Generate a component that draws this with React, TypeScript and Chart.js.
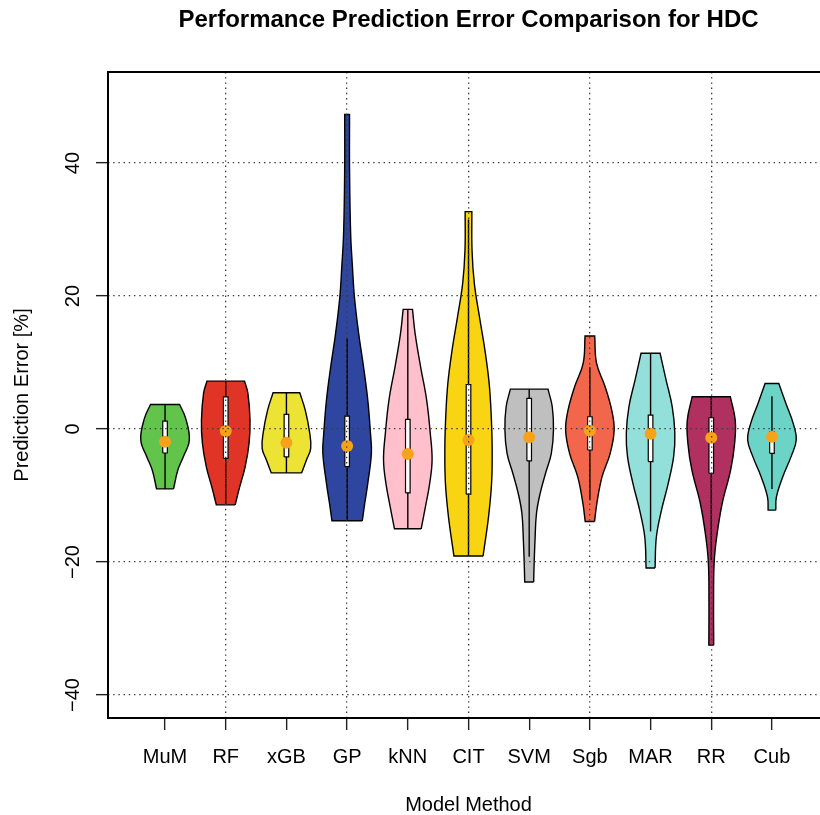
import React, { useEffect, useRef } from 'react';
import { Chart, registerables } from 'chart.js';

Chart.register(...registerables);

const FONT = '"Liberation Sans", Arial, Helvetica, sans-serif';

const titleText = 'Performance Prediction Error Comparison for HDC';
const xTitle = 'Model Method';
const yTitle = 'Prediction Error [%]';

const categories = ['MuM', 'RF', 'xGB', 'GP', 'kNN', 'CIT', 'SVM', 'Sgb', 'MAR', 'RR', 'Cub'];
const violinColors = ['#62C44A', '#E03426', '#ECE334', '#2E46A0', '#FFC0CB', '#F9D413', '#BFBFBF', '#F2664B', '#93E0DA', '#B03060', '#6CD4C7'];
const medianColor = '#F7A21B';
const yTicks = [-40, -20, 0, 20, 40];
const xGridAt = [2, 4, 6, 8, 10];

// density profiles: [error value, half width in category units], bottom to top
const mumProfile = [[-9.0, 0.14], [-6.2, 0.21], [-4.2, 0.3], [-1.65, 0.4], [1.6, 0.34], [3.7, 0.24]];
const rfProfile = [[-11.4, 0.155], [-8.7, 0.23], [-5.7, 0.32], [-2.1, 0.385], [1.35, 0.4], [5.4, 0.365], [7.2, 0.31]];
const xgbProfile = [[-6.6, 0.25], [-4.65, 0.33], [-2.9, 0.4], [-0.4, 0.38], [2.85, 0.31], [5.45, 0.22]];
const gpProfile = [[-13.8, 0.25], [-11.2, 0.29], [-8.2, 0.34], [-3.65, 0.4], [-0.65, 0.385], [4.4, 0.34], [9.4, 0.27], [14.4, 0.19], [19.9, 0.12], [24.4, 0.088], [29.4, 0.058], [39.4, 0.04], [47.3, 0.04]];
const knnProfile = [[-15.0, 0.22], [-11.7, 0.29], [-8.2, 0.36], [-4.65, 0.4], [-0.65, 0.37], [4.4, 0.31], [9.4, 0.21], [14.4, 0.12], [18.0, 0.077]];
const citProfile = [[-19.1, 0.24], [-13.2, 0.33], [-8.2, 0.38], [-3.15, 0.39], [1.85, 0.375], [6.9, 0.34], [11.9, 0.27], [16.9, 0.18], [21.9, 0.096], [26.9, 0.058], [32.7, 0.055]];
const svmProfile = [[-23.0, 0.074], [-20.7, 0.08], [-16.7, 0.096], [-12.7, 0.12], [-9.7, 0.18], [-6.65, 0.27], [-3.65, 0.365], [-0.15, 0.4], [3.35, 0.38], [6.0, 0.31]];
const sgbProfile = [[-13.9, 0.077], [-11.2, 0.115], [-7.2, 0.2], [-3.65, 0.335], [-0.15, 0.4], [2.85, 0.36], [6.4, 0.25], [9.9, 0.11], [14.0, 0.08]];
const marProfile = [[-20.9, 0.074], [-16.2, 0.096], [-12.2, 0.18], [-8.2, 0.29], [-4.15, 0.38], [-0.65, 0.4], [3.35, 0.357], [7.4, 0.255], [11.4, 0.157]];
const rrProfile = [[-32.5, 0.04], [-26.2, 0.038], [-20.2, 0.047], [-16.2, 0.09], [-11.2, 0.18], [-6.15, 0.32], [-2.15, 0.385], [1.35, 0.395], [4.85, 0.315]];
const cubProfile = [[-12.2, 0.063], [-10.2, 0.074], [-7.15, 0.18], [-4.15, 0.315], [-1.65, 0.4], [0.85, 0.35], [3.85, 0.23], [6.85, 0.113]];

const profiles = [mumProfile, rfProfile, xgbProfile, gpProfile, knnProfile, citProfile, svmProfile, sgbProfile, marProfile, rrProfile, cubProfile];

const q1Values = [-3.6, -4.4, -4.2, -5.65, -9.6, -9.8, -4.8, -3.15, -4.9, -6.65, -3.65];
const q3Values = [1.2, 4.85, 2.2, 1.95, 1.45, 6.7, 4.6, 1.85, 2.1, 1.7, -0.4];
const medians = [-1.9, -0.3, -2.05, -2.55, -3.75, -1.65, -1.25, -0.25, -0.7, -1.3, -1.15];
const whiskerLow = [-9.0, -11.4, -6.6, -13.8, -15.0, -19.1, -19.2, -10.7, -15.4, -19.7, -9.0];
const whiskerHigh = [3.7, 7.2, 5.45, 13.6, 18.0, 31.5, 6.0, 9.3, 11.4, 4.85, 4.95];

const BOX_HALF = 0.038;

function violinPoints(center: number, profile: number[][]) {
  const right = profile.map(([y, w]) => ({ x: center + w, y }));
  const left = profile.slice().reverse().map(([y, w]) => ({ x: center - w, y }));
  const pts: { x: number; y: number }[] = [];
  const c = (p: { x: number; y: number }) => ({ x: p.x, y: p.y });
  pts.push(c(right[0]), c(right[0]));
  right.slice(1, -1).forEach((p) => pts.push(c(p)));
  pts.push(c(right[right.length - 1]), c(right[right.length - 1]));
  pts.push(c(left[0]), c(left[0]));
  left.slice(1, -1).forEach((p) => pts.push(c(p)));
  pts.push(c(left[left.length - 1]), c(left[left.length - 1]));
  pts.push(c(right[0]), c(right[0]));
  return pts;
}

const framePlugin = {
  id: 'frame',
  afterDraw(chart: any) {
    const { ctx, chartArea: a } = chart;
    ctx.save();
    ctx.strokeStyle = '#000';
    ctx.lineWidth = 2;
    ctx.strokeRect(a.left, a.top, a.right - a.left, a.bottom - a.top);
    ctx.restore();
  },
};

export default function App() {
  const ref = useRef<HTMLCanvasElement | null>(null);

  useEffect(() => {
    if (!ref.current) return;
    const datasets: any[] = [];
    categories.forEach((_, i) => {
      const cx = i + 1;
      datasets.push({
        type: 'line',
        data: violinPoints(cx, profiles[i]),
        borderColor: '#000',
        borderWidth: 1.4,
        backgroundColor: violinColors[i],
        fill: 'shape',
        pointRadius: 0,
        tension: 0.4,
        order: 4,
      });
      datasets.push({
        type: 'line',
        data: [
          { x: cx, y: whiskerLow[i] },
          { x: cx, y: whiskerHigh[i] },
        ],
        borderColor: '#000',
        borderWidth: 1.4,
        fill: false,
        pointRadius: 0,
        tension: 0,
        order: 3,
      });
      datasets.push({
        type: 'line',
        data: [
          { x: cx - BOX_HALF, y: q1Values[i] },
          { x: cx + BOX_HALF, y: q1Values[i] },
          { x: cx + BOX_HALF, y: q3Values[i] },
          { x: cx - BOX_HALF, y: q3Values[i] },
          { x: cx - BOX_HALF, y: q1Values[i] },
        ],
        borderColor: '#000',
        borderWidth: 1.2,
        backgroundColor: '#fff',
        fill: 'shape',
        pointRadius: 0,
        tension: 0,
        order: 2,
      });
    });
    datasets.push({
      type: 'line',
      data: medians.map((m, i) => ({ x: i + 1, y: m })),
      showLine: false,
      pointRadius: 6,
      pointBackgroundColor: medianColor,
      pointBorderWidth: 0,
      order: 1,
    });

    const chart = new Chart(ref.current, {
      type: 'line',
      data: { datasets },
      options: {
        animation: false,
        responsive: false,
        events: [],
        layout: { padding: { left: 0, right: 11, top: 0, bottom: 0 } },
        plugins: {
          legend: { display: false },
          tooltip: { enabled: false },
          title: {
            display: true,
            text: titleText,
            fullSize: false,
            color: '#000',
            font: { family: FONT, size: 24, weight: 'bold', lineHeight: 1.2 },
            padding: { top: 5.6, bottom: 37.6 },
          },
        },
        scales: {
          x: {
            type: 'linear',
            min: 0.06,
            max: 11.94,
            afterBuildTicks: (axis: any) => {
              axis.ticks = categories.map((_, i) => ({ value: i + 1 }));
            },
            afterFit: (axis: any) => {
              axis.height = 97;
            },
            ticks: {
              autoSkip: false,
              maxRotation: 0,
              minRotation: 0,
              padding: 15,
              color: '#000',
              font: { family: FONT, size: 20, lineHeight: 1.2 },
              callback: (v: any) => categories[Math.round(Number(v)) - 1] ?? '',
            },
            grid: {
              z: 1,
              lineWidth: 1.3,
              color: (ctx: any) => (ctx.tick && xGridAt.includes(ctx.tick.value) ? '#3a3a3a' : 'rgba(0,0,0,0)'),
              tickLength: 12,
              tickColor: '#222',
              tickWidth: 1.4,
              tickBorderDash: [],
            },
            border: { display: false, dash: [1.4, 3.8] },
            title: {
              display: true,
              text: xTitle,
              color: '#000',
              font: { family: FONT, size: 20, lineHeight: 1.2 },
              padding: { top: 0, bottom: -2 },
            },
          },
          y: {
            type: 'linear',
            min: -43.46,
            max: 53.7,
            afterBuildTicks: (axis: any) => {
              axis.ticks = yTicks.map((v) => ({ value: v }));
            },
            afterFit: (axis: any) => {
              axis.width = 108;
            },
            ticks: {
              minRotation: 90,
              maxRotation: 90,
              crossAlign: 'center',
              padding: 6,
              color: '#000',
              font: { family: FONT, size: 20, lineHeight: 1.2 },
              callback: (v: any) => (Number(v) < 0 ? '\u2212' + Math.abs(Number(v)) : String(v)),
            },
            grid: {
              z: 1,
              lineWidth: 1.3,
              color: '#3a3a3a',
              tickLength: 12,
              tickColor: '#222',
              tickWidth: 1.4,
              tickBorderDash: [],
            },
            border: { display: false, dash: [1.4, 3.8] },
            title: {
              display: true,
              text: yTitle,
              color: '#000',
              font: { family: FONT, size: 20, lineHeight: 1.2 },
              padding: { top: 10.5, bottom: 0 },
            },
          },
        },
      } as any,
      plugins: [framePlugin],
    });
    return () => chart.destroy();
  }, []);

  return (
    <div style={{ position: 'fixed', left: 0, top: 0, width: 820, height: 815, overflow: 'hidden', background: '#fff' }}>
      <canvas ref={ref} width={840} height={815} style={{ width: 840, height: 815, display: 'block' }} />
    </div>
  );
}
